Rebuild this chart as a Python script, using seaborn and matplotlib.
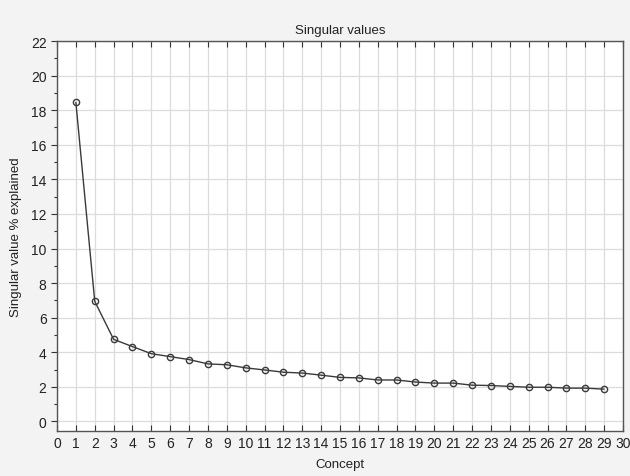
import numpy as np
import pandas as pd
import matplotlib
matplotlib.use('Agg')
import matplotlib.pyplot as plt
import seaborn as sns
from matplotlib.ticker import MultipleLocator

# ============================================================
# Data
# ============================================================
concepts = list(range(1, 30))
singular_pct = [18.45, 6.95, 4.75, 4.33, 3.92, 3.75, 3.58, 3.33, 3.28, 3.10,
                2.98, 2.85, 2.80, 2.68, 2.55, 2.52, 2.40, 2.40, 2.28, 2.22,
                2.22, 2.10, 2.08, 2.03, 1.98, 1.98, 1.93, 1.93, 1.87]

df = pd.DataFrame({'Concept': concepts, 'pct': singular_pct})

# ============================================================
# Plot
# ============================================================
sns.set_style('white')
plt.rcParams['font.family'] = ['Liberation Sans', 'DejaVu Sans']

fig = plt.figure(figsize=(6.3, 4.77), dpi=100, facecolor='#f3f3f3')
ax = fig.add_axes([57 / 630, 1 - 432 / 477, (623 - 57) / 630, (432 - 42) / 477])
ax.set_facecolor('white')

sns.lineplot(data=df, x='Concept', y='pct', ax=ax, color='#3a3a3a', linewidth=1.0,
             marker='o', markersize=4.5, markerfacecolor='none',
             markeredgecolor='#3a3a3a', markeredgewidth=1.0)

ax.set_xlim(0, 30)
ax.set_ylim(-0.55, 22)
ax.xaxis.set_major_locator(MultipleLocator(1))
ax.yaxis.set_major_locator(MultipleLocator(2))
ax.yaxis.set_minor_locator(MultipleLocator(1))
ax.grid(True, which='major', color='#dcdcdc', linewidth=0.9)
ax.set_axisbelow(True)

ax.tick_params(axis='x', which='major', direction='in', top=True, bottom=True,
               length=4, width=0.8, color='#333333', labelsize=10, labelcolor='#222222')
ax.tick_params(axis='y', which='major', direction='out', left=True, right=False,
               length=4, width=0.8, color='#333333', labelsize=10, labelcolor='#222222')
ax.tick_params(axis='y', which='minor', direction='out', left=True, length=2.5,
               width=0.8, color='#333333')

for s in ax.spines.values():
    s.set_color('#555555')
    s.set_linewidth(1.0)

ax.set_xlabel('Concept', fontsize=9.5, color='#222222', labelpad=6)
ax.set_ylabel('Singular value % explained', fontsize=9.5, color='#222222', labelpad=6)
ax.set_title('Singular values', fontsize=9.5, color='#222222', pad=6)

plt.savefig('out.png', dpi=100, facecolor=fig.get_facecolor())
plt.close()
